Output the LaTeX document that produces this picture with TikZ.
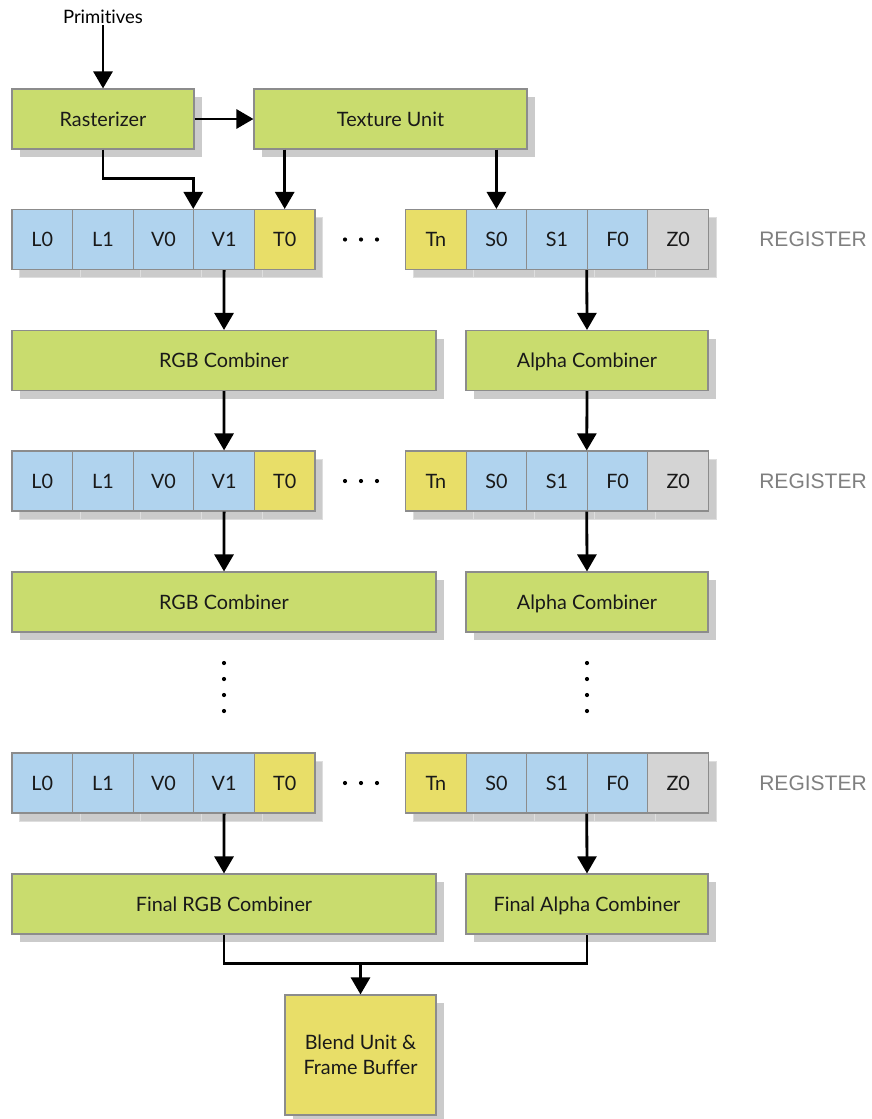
\documentclass[tikz,border=0pt]{standalone}
\usepackage{fontspec}
\setmainfont{Lato}[Ligatures=NoCommon]
\newfontfamily\regfont{Liberation Sans}
\usetikzlibrary{shadows,arrows.meta,calc}
\definecolor{boxgreen}{HTML}{C9DC6E}
\definecolor{regblue}{HTML}{B0D3EE}
\definecolor{texyellow}{HTML}{E8DE68}
\definecolor{zgray}{HTML}{D4D4D4}
\definecolor{edge}{HTML}{8C8C8C}
\definecolor{shade}{HTML}{CBCBCB}
\definecolor{shadeline}{HTML}{DEDEDE}
\definecolor{labelgray}{HTML}{7F7F7F}
\begin{document}
\begin{tikzpicture}[x=1pt,y=-1pt,
  box/.style={draw=edge, line width=1.1pt, inner sep=2pt, text=black!90,
    font=\fontsize{19.8}{24}\selectfont,
    drop shadow={shadow xshift=7.5pt, shadow yshift=-8pt, fill=shade, opacity=1}},
  unit/.style={box, fill=boxgreen, minimum height=60pt, text height=19.2pt, text depth=5pt},
  reg/.style={draw=edge, line width=1.1pt, inner sep=1pt, text=black!90,
    font=\fontsize{19.8}{24}\selectfont, minimum width=60.6pt, minimum height=60pt,
    text height=19.2pt, text depth=5pt,
    drop shadow={shadow xshift=7.5pt, shadow yshift=-8pt, fill=shade, draw=shadeline, line width=0.8pt, opacity=1}},
  arr/.style={line width=2.8pt, -{Triangle[width=19pt,length=17pt]}},
  link/.style={line width=2.8pt},
  reglabel/.style={font=\regfont\fontsize{21}{25}\selectfont, text=labelgray},
  dot/.style={fill=black}
]
\useasboundingbox (0,0) rectangle (871,1119);

% input stage
\node[font=\fontsize{18.5}{22}\selectfont, inner sep=1pt] (prim) at (103,17) {Primitives};
\node[unit, minimum width=182pt] (ras) at (103,119) {Rasterizer};
\node[unit, minimum width=273pt] (tex) at (390.5,119) {Texture Unit};

% register rows
\foreach \row/\yc in {1/239.5, 2/481, 3/783} {
  \foreach \nm/\col [count=\i from 0] in {L0/regblue, L1/regblue, V0/regblue, V1/regblue, T0/texyellow}
    \node[reg, fill=\col] (\nm-\row) at ({42.3+60.6*\i},\yc) {\nm};
  \foreach \nm/\col [count=\i from 0] in {Tn/texyellow, S0/regblue, S1/regblue, F0/regblue, Z0/zgray}
    \node[reg, fill=\col] (\nm-\row) at ({435.8+60.6*\i},\yc) {\nm};
  \foreach \xd in {345,361,377}
    \fill[dot] (\xd,\yc) circle (2.1pt);
  \node[reglabel] (lbl-\row) at (813,\yc) {REGISTER};
}

% combiner stages
\node[unit, minimum width=424pt] (rgb1) at (224,360.5) {RGB Combiner};
\node[unit, minimum width=242pt] (alpha1) at (587,360.5) {Alpha Combiner};
\node[unit, minimum width=424pt] (rgb2) at (224,602) {RGB Combiner};
\node[unit, minimum width=242pt] (alpha2) at (587,602) {Alpha Combiner};
\node[unit, minimum width=424pt] (frgb) at (224,904) {Final RGB Combiner};
\node[unit, minimum width=242pt] (falpha) at (587,904) {Final Alpha Combiner};
\node[box, fill=texyellow, minimum width=151pt, minimum height=120pt, align=center,
  font=\fontsize{19.8}{25}\selectfont] (blend) at (360.5,1055) {Blend Unit \&\\Frame Buffer};

% vertical ellipses between stages
\foreach \xd in {224,587}
  \foreach \yd in {663,679,695,711}
    \fill[dot] (\xd,\yd) circle (2.1pt);

% connectors
\draw[arr] (prim) -- (ras);
\draw[arr] (ras) -- (tex);
\draw[arr] (ras.south) -- ++(0,29) -| (V1-1.north west);
\draw[arr] (tex.south -| T0-1.north) -- (T0-1.north);
\draw[arr] (tex.south -| S0-1.north) -- (S0-1.north);

\draw[arr] (V1-1.south) -- (rgb1.north);
\draw[arr] (F0-1.south west) -- (alpha1.north);
\draw[arr] (rgb1.south) -- (V1-2.north);
\draw[arr] (alpha1.south) -- (F0-2.north west);
\draw[arr] (V1-2.south) -- (rgb2.north);
\draw[arr] (F0-2.south west) -- (alpha2.north);

\draw[arr] (V1-3.south) -- (frgb.north);
\draw[arr] (F0-3.south west) -- (falpha.north);

\coordinate (join) at ($(frgb.south)+(0,29)$);
\draw[link] (frgb.south) |- (falpha.south |- join) -- (falpha.south);
\draw[arr] (blend.north |- join) -- (blend.north);
\end{tikzpicture}
\end{document}
